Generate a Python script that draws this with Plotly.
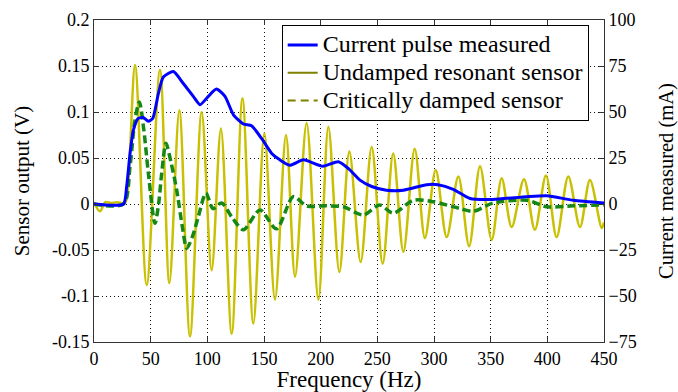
import plotly.graph_objects as go

# ---- data ----
# Current pulse measured (mA, right axis)
cur_f = [0, 26, 28.8, 31.8, 34.7, 39, 43.5, 48, 51.8, 56.8, 61.2, 70, 78.8, 87.6, 93.5,
         100.9, 108, 115.6, 123, 131.8, 139, 148, 156.8, 164, 173, 184.7, 202, 215.6,
         225, 234.7, 245, 258, 273, 293.6, 303.5, 317, 331.8, 352, 381.8, 399.5, 423, 450]
cur_mA = [0, 0, 9.5, 27.5, 40, 46.5, 47, 45, 46.5, 60, 69, 72, 65.5, 58.5, 54,
          58.5, 62.5, 58.5, 48.5, 43.5, 42.5, 35.5, 27.5, 24, 21, 24, 20.5, 23,
          19, 13, 9.5, 7.5, 7.5, 10.5, 10.5, 8, 3, 2.5, 4, 4.5, 2, 0.5]

# Undamped resonant sensor (V, left axis)
und_f = [0, 5.3, 10, 15, 20, 27, 28.8, 36.2, 46.5, 58.2, 66.5, 75.3, 84.7, 95, 103.8,
         112, 121.5, 131, 140.6, 150.3, 159.7, 169.4, 177.4, 187.6, 198, 206.8, 216.5,
         225.3, 235.3, 245, 254.7, 264, 273, 283, 292, 301.5, 311.2, 321.5, 331, 340.6,
         350.9, 359.7, 368.5, 379.4, 389, 398.8, 408.2, 418.5, 428.8, 437.6, 448, 450]
und_v = [0.002, -0.008, 0.002, 0.001, 0.002, 0.001, 0.005, 0.151, -0.088, 0.146, -0.086,
         0.102, -0.144, 0.100, -0.072, 0.082, -0.141, 0.115, -0.130, 0.077, -0.104, 0.075,
         -0.079, 0.088, -0.104, 0.084, -0.074, 0.057, -0.063, 0.062, -0.065, 0.055, -0.052,
         0.060, -0.037, 0.037, -0.036, 0.030, -0.046, 0.041, -0.039, 0.028, -0.025, 0.027,
         -0.028, 0.031, -0.036, 0.030, -0.025, 0.026, -0.026, -0.020]

# Critically damped sensor (V, left axis)
crit_f = [0, 26, 31.8, 36, 40, 44, 48, 53.8, 57, 59.7, 63.5, 68, 73, 78, 81.8, 87, 92,
          98.8, 105, 112.6, 122, 131.8, 146.5, 161, 175.9, 187.6, 205, 220, 237.6, 252,
          264, 281.8, 299.4, 323, 334.7, 352, 381.8, 399.5, 423, 450]
crit_v = [0, 0, 0.041, 0.090, 0.111, 0.080, 0.033, -0.021, 0.000, 0.033, 0.066, 0.045,
          0.015, -0.025, -0.048, -0.035, -0.014, 0.012, -0.005, 0.001, -0.015, -0.028,
          -0.0065, -0.027, 0.008, -0.002, -0.002, -0.003, -0.012, -0.001, -0.010, 0.004,
          0.0025, -0.005, -0.008, 0.001, 0.004, -0.003, -0.002, -0.001]

x_ticks = [0, 50, 100, 150, 200, 250, 300, 350, 400, 450]
yl_ticks = [-0.15, -0.1, -0.05, 0, 0.05, 0.1, 0.15, 0.2]
yl_text = ["-0.15", "-0.1", "-0.05", "0", "0.05", "0.1", "0.15", "0.2"]
yr_ticks = [-75, -50, -25, 0, 25, 50, 75, 100]

names = ["Current pulse measured", "Undamped resonant sensor", "Critically damped sensor"]

FONT = "Liberation Serif"
AX = "#333333"
TICKF = dict(family=FONT, size=18, color="black")
GRID = dict(showgrid=True, gridcolor="#111111", griddash="1px,3px", gridwidth=1)


def big(s):
    # legend label drawn at 24px while the legend rows keep compact spacing
    return '<span style="font-size:24px">' + s + '</span>'


fig = go.Figure()
fig.add_trace(go.Scatter(x=und_f, y=und_v, mode="lines", showlegend=False,
                         line=dict(color="rgb(200,192,0)", width=2.5, shape="spline", smoothing=0.9)))
fig.add_trace(go.Scatter(x=crit_f, y=crit_v, mode="lines", showlegend=False,
                         line=dict(color="rgb(20,135,20)", width=3.5, dash="8px,4px",
                                   shape="spline", smoothing=0.8)))
fig.add_trace(go.Scatter(x=cur_f, y=cur_mA, mode="lines", yaxis="y2", name=big(names[0]),
                         legendrank=1,
                         line=dict(color="#0000ff", width=3, shape="spline", smoothing=0.6)))
# legend entries (the reference legend shows olive swatches)
fig.add_trace(go.Scatter(x=[None], y=[None], mode="lines", name=big(names[1]), legendrank=2,
                         line=dict(color="#808000", width=2)))
fig.add_trace(go.Scatter(x=[None], y=[None], mode="lines", name=big(names[2]), legendrank=3,
                         line=dict(color="#808000", width=2, dash="8px,5px")))

fig.update_layout(
    width=678, height=392,
    margin=dict(l=94, r=74, t=20, b=50, autoexpand=False),
    paper_bgcolor="white", plot_bgcolor="white",
    font=dict(family=FONT, size=18, color="black"),
    xaxis=dict(range=[0, 450], tickvals=x_ticks, ticks="inside", ticklen=5, tickcolor=AX,
               showline=True, linecolor=AX, linewidth=1, mirror="ticks", automargin=False,
               zeroline=False, tickfont=TICKF, **GRID,
               title=dict(text="Frequency (Hz)", standoff=10, font=dict(family=FONT, size=23))),
    yaxis=dict(range=[-0.15, 0.2], tickvals=yl_ticks, ticktext=yl_text, ticks="inside",
               ticklen=5, tickcolor=AX, showline=True, linecolor=AX, linewidth=1,
               automargin=False, zeroline=False, tickfont=TICKF, **GRID,
               title=dict(text="Sensor output (V)", standoff=16, font=dict(family=FONT, size=21))),
    yaxis2=dict(range=[-75, 100], tickvals=yr_ticks, overlaying="y", side="right",
                ticks="inside", ticklen=5, tickcolor=AX, showline=True, linecolor=AX,
                linewidth=1, showgrid=False, zeroline=False, tickfont=TICKF, automargin=False,
                title=dict(text="Current measured (mA)", standoff=24,
                           font=dict(family=FONT, size=20.5))),
    legend=dict(x=0.368, y=0.984, xanchor="left", yanchor="top", bgcolor="white",
                bordercolor="black", borderwidth=1, itemwidth=30,
                font=dict(family=FONT, size=19), tracegroupgap=0),
)

fig.write_html("out.html")
